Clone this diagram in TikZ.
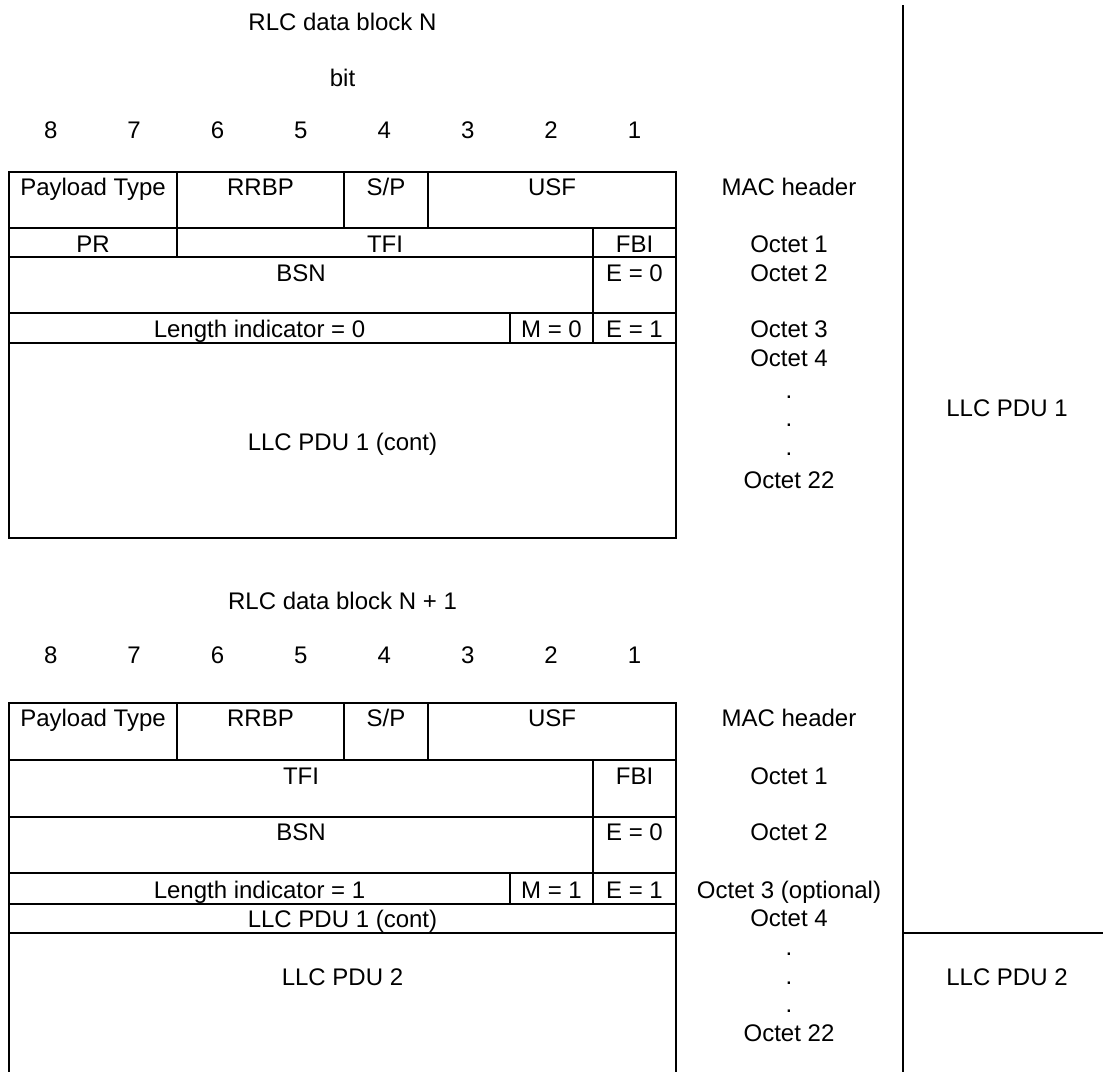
\documentclass[tikz,border=0pt]{standalone}
\usepackage{fontspec}
\setmainfont{Liberation Sans}
\begin{document}
\begin{tikzpicture}[x=1pt,y=-1pt,
  grid/.style={line width=2pt, line cap=rect},
  txt/.style={anchor=base, inner sep=0pt, font=\fontsize{24}{28}\selectfont}]
\useasboundingbox (0,0) rectangle (1103,1071);
% ---------- block N ----------
\node[txt] (t1) at (342.5,30) {RLC data block N};
\node[txt] (bit) at (342.5,86) {bit};
\foreach \b [count=\i from 0] in {8,7,6,5,4,3,2,1}
  \node[txt] (na\b) at (50.7+83.4*\i,138.6) {\b};
\draw[grid] (9,172) rectangle (676,538);
\foreach \yy in {228,257,313,343} \draw[grid] (9,\yy) -- (676,\yy);
\foreach \xx in {177,344,428} \draw[grid] (\xx,172) -- (\xx,228);
\draw[grid] (177,228) -- (177,257);
\draw[grid] (593,228) -- (593,343);
\draw[grid] (510,313) -- (510,343);
\node[txt] (pt1) at (93,195.6) {Payload Type};
\node[txt] (rr1) at (260.5,195.6) {RRBP};
\node[txt] (sp1) at (386,195.6) {S/P};
\node[txt] (usf1) at (552,195.6) {USF};
\node[txt] (mac1) at (789,195.6) {MAC header};
\node[txt] (pr1) at (93,252.6) {PR};
\node[txt] (tfi1) at (385,252.6) {TFI};
\node[txt] (fbi1) at (634.5,252.6) {FBI};
\node[txt] (o11) at (789,252.6) {Octet 1};
\node[txt] (bsn1) at (301,281.6) {BSN};
\node[txt] (e01) at (634.5,281.6) {E = 0};
\node[txt] (o21) at (789,281.6) {Octet 2};
\node[txt] (li1) at (259.5,337.6) {Length indicator = 0};
\node[txt] (m1) at (551.5,337.6) {M = 0};
\node[txt] (e11) at (634.5,337.6) {E = 1};
\node[txt] (o31) at (789,337.6) {Octet 3};
\node[txt] (o41) at (789,366.1) {Octet 4};
\node[txt] (d11) at (789,398) {.};
\node[txt] (d21) at (789,426.5) {.};
\node[txt] (d31) at (789,455) {.};
\node[txt] (o221) at (789,488) {Octet 22};
\node[txt] (llc1) at (342.5,450.6) {LLC PDU 1 (cont)};
\node[txt] (pdu1) at (1007,416) {LLC PDU 1};
% ---------- block N+1 ----------
\node[txt] (t2) at (342.5,609.6) {RLC data block N + 1};
\foreach \b [count=\i from 0] in {8,7,6,5,4,3,2,1}
  \node[txt] (nb\b) at (50.7+83.4*\i,663.6) {\b};
\draw[grid] (9,1071) -- (9,703) -- (676,703) -- (676,1071);
\foreach \yy in {760,817,873,904,933} \draw[grid] (9,\yy) -- (676,\yy);
\foreach \xx in {177,344,428} \draw[grid] (\xx,703) -- (\xx,760);
\draw[grid] (593,760) -- (593,904);
\draw[grid] (510,873) -- (510,904);
\node[txt] (pt2) at (93,726.6) {Payload Type};
\node[txt] (rr2) at (260.5,726.6) {RRBP};
\node[txt] (sp2) at (386,726.6) {S/P};
\node[txt] (usf2) at (552,726.6) {USF};
\node[txt] (mac2) at (789,726.6) {MAC header};
\node[txt] (tfi2) at (301,784.6) {TFI};
\node[txt] (fbi2) at (634.5,784.6) {FBI};
\node[txt] (o12) at (789,784.6) {Octet 1};
\node[txt] (bsn2) at (301,840.6) {BSN};
\node[txt] (e02) at (634.5,840.6) {E = 0};
\node[txt] (o22) at (789,840.6) {Octet 2};
\node[txt] (li2) at (259.5,898.1) {Length indicator = 1};
\node[txt] (m2) at (551.5,898.1) {M = 1};
\node[txt] (e12) at (634.5,898.1) {E = 1};
\node[txt] (o32) at (789,898.1) {Octet 3 (optional)};
\node[txt] (llcc2) at (342.5,927.1) {LLC PDU 1 (cont)};
\node[txt] (o42) at (789,926.6) {Octet 4};
\node[txt] (d12) at (789,955.6) {.};
\node[txt] (d22) at (789,984.1) {.};
\node[txt] (d32) at (789,1012.6) {.};
\node[txt] (o222) at (789,1041.1) {Octet 22};
\node[txt] (llc2) at (342.5,985.6) {LLC PDU 2};
\node[txt] (pdu2) at (1007,985.6) {LLC PDU 2};
% ---------- right column ----------
\draw[grid] (903,6) -- (903,1071);
\draw[grid] (903,933) -- (1103,933);
\end{tikzpicture}
\end{document}
